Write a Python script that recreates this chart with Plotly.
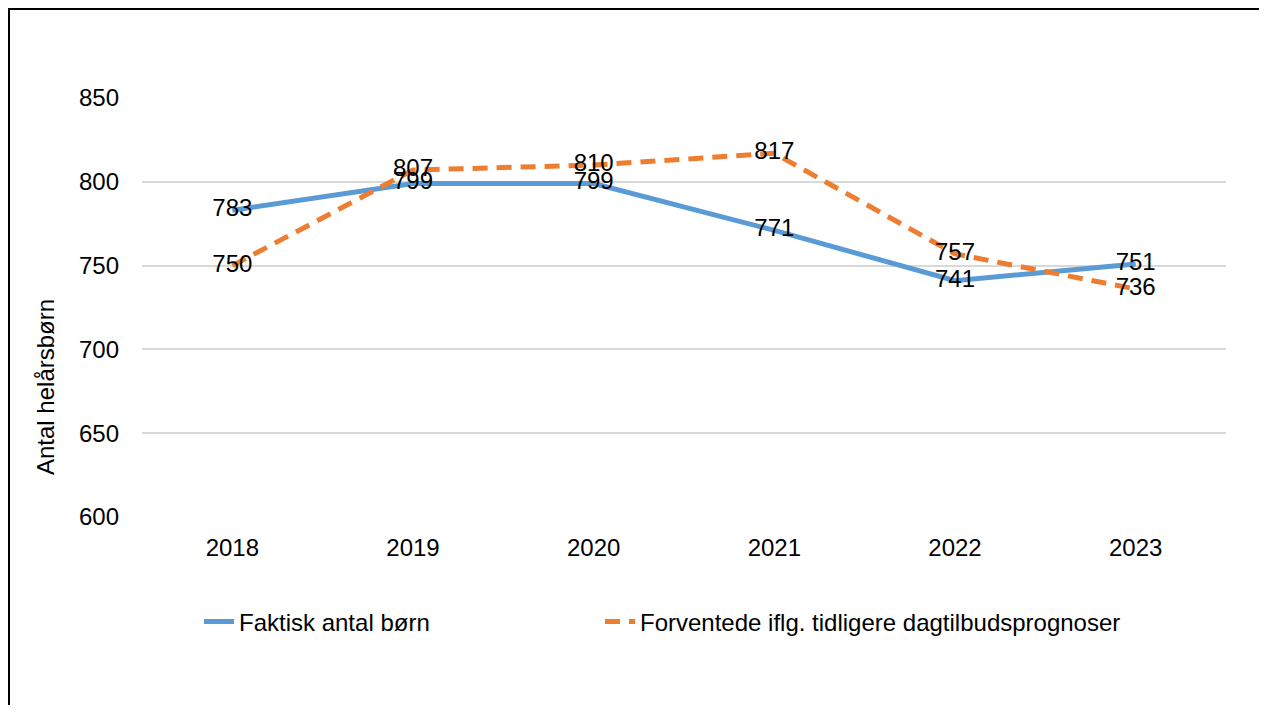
import plotly.graph_objects as go

# Data
years = ['2018', '2019', '2020', '2021', '2022', '2023']
faktisk = [783, 799, 799, 771, 741, 751]
forventet = [750, 807, 810, 817, 757, 736]

y_ticks = [600, 650, 700, 750, 800, 850]

BLUE = '#5B9BD5'
ORANGE = '#ED7D31'
FONT = 'Liberation Sans, Arial, sans-serif'
FS = 24

# page has an 8px body margin, so work in screen pixels and shift
OFF = 8
W, H = 1268 - 2 * OFF, 713 - 2 * OFF
L, T = 142 - OFF, 98 - OFF
R = W - (1226 - OFF)
B = H - (517 - OFF)
PW, PH = W - L - R, H - T - B


def px_x(v):
    # screen pixel -> paper x
    return (v - OFF - L) / PW


def px_y(v):
    # screen pixel -> paper y
    return (H - B - (v - OFF)) / PH


fig = go.Figure()

fig.add_trace(go.Scatter(
    x=years, y=faktisk, name='Faktisk antal børn',
    mode='lines', legend='legend',
    line=dict(color=BLUE, width=5),
))
fig.add_trace(go.Scatter(
    x=years, y=forventet, name='Forventede iflg. tidligere dagtilbudsprognoser',
    mode='lines', legend='legend2',
    line=dict(color=ORANGE, width=5, dash='15px,9px'),
))

# data labels on top of both lines
for vals in (faktisk, forventet):
    fig.add_trace(go.Scatter(
        x=years, y=vals, mode='text', text=[str(v) for v in vals],
        textposition='middle center', showlegend=False, hoverinfo='skip',
        textfont=dict(family=FONT, size=FS, color='black'),
    ))

legend_style = dict(
    orientation='h', xanchor='left', yanchor='middle', y=px_y(622),
    font=dict(family=FONT, size=FS, color='black'),
    itemwidth=30, bgcolor='rgba(0,0,0,0)',
)

# chart frame: only the left and top edges are visible in the reference
frame = dict(type='line', xref='paper', yref='paper', layer='above',
             line=dict(color='black', width=2))

fig.update_layout(
    width=W, height=H,
    margin=dict(l=L, r=R, t=T, b=B),
    paper_bgcolor='white', plot_bgcolor='white',
    font=dict(family=FONT, size=FS, color='black'),
    showlegend=True,
    legend=dict(x=px_x(199), **legend_style),
    legend2=dict(x=px_x(600), **legend_style),
    xaxis=dict(
        type='category', range=[-0.5, 5.5], showgrid=False, showline=False,
        zeroline=False, ticks='', ticklabelstandoff=14,
        tickfont=dict(family=FONT, size=FS, color='black'),
    ),
    yaxis=dict(
        range=[600, 850], tickvals=y_ticks, showgrid=True, gridcolor='#D9D9D9',
        gridwidth=1.5, zeroline=False, showline=False, ticks='',
        ticklabelstandoff=22,
        tickfont=dict(family=FONT, size=FS, color='black'),
    ),
    annotations=[dict(
        text='Antal helårsbørn', textangle=-90, showarrow=False,
        xref='paper', yref='paper', x=px_x(45), y=px_y(387),
        xanchor='center', yanchor='middle',
        font=dict(family=FONT, size=FS, color='black'),
    )],
    shapes=[
        dict(x0=px_x(9), x1=px_x(9), y0=px_y(720), y1=px_y(8), **frame),
        dict(x0=px_x(8), x1=px_x(1259), y0=px_y(9), y1=px_y(9), **frame),
    ],
)

fig.write_html('out.html')
